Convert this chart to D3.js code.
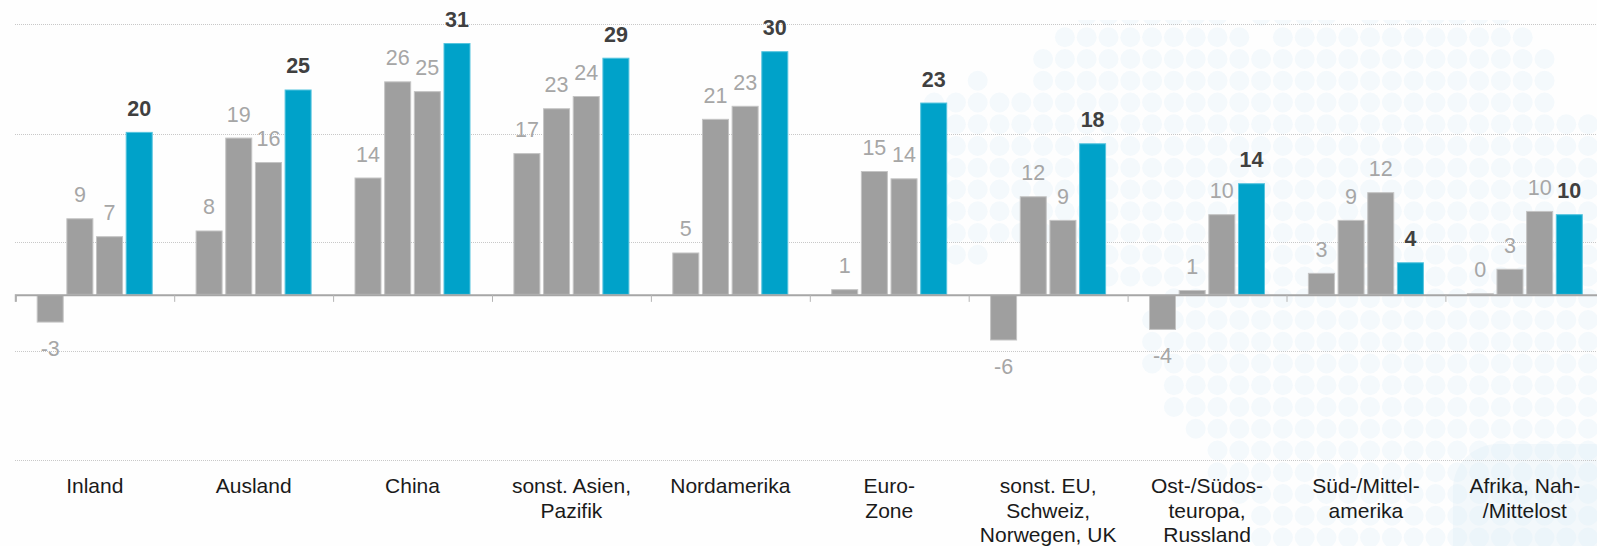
<!DOCTYPE html>
<html>
<head>
<meta charset="utf-8">
<script src="https://cdnjs.cloudflare.com/ajax/libs/d3/7.8.5/d3.min.js"></script>
<style>
  html, body { margin: 0; padding: 0; background: #fefefe; overflow: hidden; }
  svg { display: block; }
  text { font-family: "Liberation Sans", Arial, sans-serif; }
</style>
</head>
<body>
<div class="chart"></div>
<script>
var categories = [
  ['Inland'],
  ['Ausland'],
  ['China'],
  ['sonst. Asien,', 'Pazifik'],
  ['Nordamerika'],
  ['Euro-', 'Zone'],
  ['sonst. EU,', 'Schweiz,', 'Norwegen, UK'],
  ['Ost-/Südos-', 'teuropa,', 'Russland'],
  ['Süd-/Mittel-', 'amerika'],
  ['Afrika, Nah-', '/Mittelost']
];
var series = ['a', 'b', 'c', 'd'];

// values as measured from the bars, the printed labels are rounded
var valuesA = [-3.4, 7.9, 14.4, 17.4, 5.2, 0.7, -5.6, -4.3, 2.7, 0.2];
var valuesB = [9.4, 19.3, 26.2, 22.9, 21.6, 15.2, 12.1, 0.6, 9.2, 3.2];
var valuesC = [7.2, 16.3, 25.0, 24.4, 23.2, 14.3, 9.2, 9.9, 12.6, 10.3];
var valuesD = [20.0, 25.2, 30.9, 29.1, 29.9, 23.6, 18.6, 13.7, 4.0, 9.9];

var labelsA = ['-3', '8', '14', '17', '5', '1', '-6', '-4', '3', '0'];
var labelsB = ['9', '19', '26', '23', '21', '15', '12', '1', '9', '3'];
var labelsC = ['7', '16', '25', '24', '23', '14', '9', '10', '12', '10'];
var labelsD = ['20', '25', '31', '29', '30', '23', '18', '14', '4', '10'];

var gridValues = [33.2, 19.8, 6.45, -6.9, -20.3];

// background dot map: per row of the dot grid, the runs of columns that are filled
var mapRows = [
  [-1, [[5, 11], [13, 16], [18, 24]]],
  [0, [[4, 12], [14, 25]]],
  [1, [[3, 26]]],
  [2, [[0, 0], [3, 26]]],
  [3, [[-2, 26]]],
  [4, [[-1, 29]]],
  [5, [[-1, 29]]],
  [6, [[-1, 29]]],
  [7, [[-1, 29]]],
  [8, [[-1, 29]]],
  [9, [[-1, 29]]],
  [10, [[-1, 0], [6, 29]]],
  [11, [[6, 29]]],
  [12, [[9, 29]]],
  [13, [[8, 29]]],
  [14, [[8, 29]]],
  [15, [[8, 29]]],
  [16, [[9, 29]]],
  [17, [[9, 29]]],
  [18, [[10, 29]]],
  [19, [[11, 29]]],
  [20, [[11, 29]]],
  [21, [[12, 29]]],
  [22, [[13, 29]]],
  [23, [[13, 29]]]
];

var width = 1597;
var height = 546;
var left = 15.3;
var groupWidth = 158.9;
var right = left + groupWidth * categories.length;

var svg = d3.select('.chart')
  .append('svg')
  .attr('width', width)
  .attr('height', height);

var yScale = d3.scaleLinear()
  .domain([-20.3, 33.2])
  .range([460.3, 24.3]);

var xGroup = d3.scaleBand()
  .domain(d3.range(categories.length))
  .range([left, right]);

var xBar = d3.scaleBand()
  .domain(series)
  .range([21.4, 137.4])
  .paddingInner(0.09);

// dot map
var colScale = d3.scaleLinear().domain([0, 1]).range([977.7, 999.5]);
var rowScale = d3.scaleLinear().domain([0, 1]).range([37.3, 59.05]);

svg.append('clipPath')
  .attr('id', 'mapClip')
  .append('rect')
  .attr('x', 0)
  .attr('y', 20)
  .attr('width', width)
  .attr('height', height - 20);

var mapDots = [];
mapRows.forEach(r => {
  r[1].forEach(run => {
    d3.range(run[0], run[1] + 1).forEach(c => mapDots.push({ row: r[0], col: c }));
  });
});

var map = svg.append('g').attr('clip-path', 'url(#mapClip)');

map.selectAll('circle')
  .data(mapDots)
  .enter()
  .append('circle')
  .attr('cx', d => colScale(d.col))
  .attr('cy', d => rowScale(d.row))
  .attr('r', 10)
  .style('fill', '#f4f9fc');

// the darker patch in the bottom right corner
map.append('rect')
  .attr('x', colScale(21.8))
  .attr('y', rowScale(18.7))
  .attr('width', 220)
  .attr('height', 160)
  .attr('rx', 45)
  .style('fill', '#dcecf5')
  .style('fill-opacity', 0.32);

// grid
var grid = svg.append('g')
  .attr('transform', `translate(${left}, 0)`)
  .call(d3.axisLeft(yScale).tickValues(gridValues).tickSize(-(width - left)).tickFormat(''));
grid.select('.domain').remove();
grid.selectAll('.tick line')
  .attr('shape-rendering', 'crispEdges')
  .style('stroke', '#c8c8c8')
  .style('stroke-width', 1)
  .style('stroke-dasharray', '1 1');

// bars
var seriesData = [
  { key: 'a', values: valuesA, labels: labelsA, color: '#9f9f9f', edge: '#c4c4c4', text: '#a6a6a6', weight: 'normal' },
  { key: 'b', values: valuesB, labels: labelsB, color: '#9f9f9f', edge: '#c4c4c4', text: '#a6a6a6', weight: 'normal' },
  { key: 'c', values: valuesC, labels: labelsC, color: '#9f9f9f', edge: '#c4c4c4', text: '#a6a6a6', weight: 'normal' },
  { key: 'd', values: valuesD, labels: labelsD, color: '#00a2c9', edge: '#55c4de', text: '#404040', weight: 'bold' }
];

var groups = svg.selectAll('.series')
  .data(seriesData)
  .enter()
  .append('g')
  .attr('class', 'series');

groups.selectAll('rect')
  .data(s => s.values.map((v, i) => ({ v: v, i: i, s: s })))
  .enter()
  .append('rect')
  .attr('x', d => xGroup(d.i) + xBar(d.s.key) + 0.5)
  .attr('y', d => Math.min(yScale(d.v), yScale(0)) + 0.5)
  .attr('width', xBar.bandwidth() - 1)
  .attr('height', d => Math.abs(yScale(d.v) - yScale(0)) - 1)
  .style('fill', d => d.s.color)
  .style('stroke', d => d.s.edge)
  .style('stroke-width', 1);

// axis line with the group ticks
var tickScale = d3.scaleLinear()
  .domain([0, categories.length])
  .range([left, right]);

var axis = svg.append('g')
  .attr('transform', `translate(0, ${yScale(0)})`)
  .call(d3.axisBottom(tickScale).tickValues(d3.range(categories.length + 1)).tickSize(7).tickFormat(''));
axis.select('.domain').style('stroke', '#a6a6a6').style('stroke-width', 2);
axis.selectAll('.tick line').style('stroke', '#b4b4b4').style('stroke-width', 1);

// value labels
groups.selectAll('.value')
  .data(s => s.values.map((v, i) => ({ v: v, i: i, s: s })))
  .enter()
  .append('text')
  .attr('class', 'value')
  .attr('x', d => xGroup(d.i) + xBar(d.s.key) + xBar.bandwidth() / 2)
  .attr('y', d => d.v < 0 ? yScale(d.v) + 33.5 : yScale(d.v) - 16)
  .style('text-anchor', 'middle')
  .style('font-size', '21.5px')
  .style('font-weight', d => d.s.weight)
  .style('fill', d => d.s.text)
  .text(d => d.s.labels[d.i]);

// category labels
var catLabels = svg.selectAll('.category')
  .data(categories)
  .enter()
  .append('text')
  .attr('class', 'category')
  .attr('x', (d, i) => xGroup(i) + xGroup.bandwidth() / 2)
  .style('text-anchor', 'middle')
  .style('font-size', '21px')
  .style('fill', '#1a1a1a');

catLabels.selectAll('tspan')
  .data(d => d)
  .enter()
  .append('tspan')
  .attr('x', function () { return d3.select(this.parentNode).attr('x'); })
  .attr('y', (d, i) => 493 + i * 24.5)
  .text(d => d);
</script>
</body>
</html>
